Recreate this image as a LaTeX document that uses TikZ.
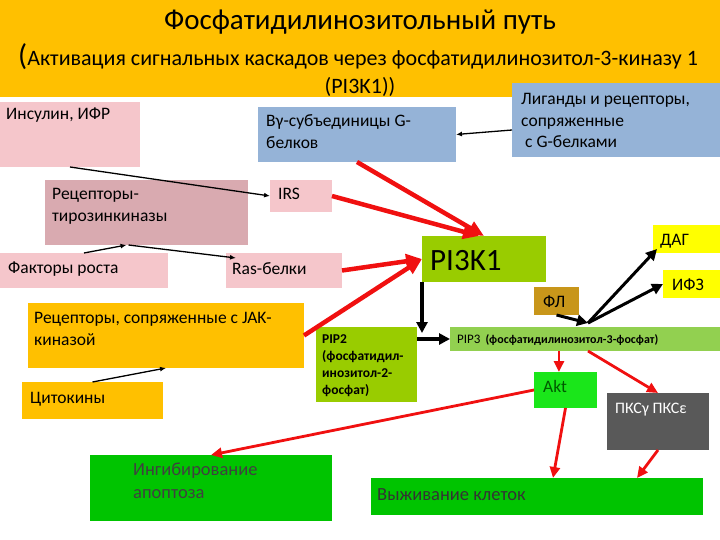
\documentclass[tikz,border=0pt]{standalone}
\usepackage{fontspec}
\setmainfont{Carlito}
\usetikzlibrary{arrows.meta,calc}

\definecolor{bandor}{HTML}{FFC000}
\definecolor{pinkbox}{HTML}{F5C6CB}
\definecolor{rtkbox}{HTML}{D9AAB0}
\definecolor{bluebox}{HTML}{95B3D7}
\definecolor{olivebox}{HTML}{99CC00}
\definecolor{pipbox}{HTML}{92D050}
\definecolor{aktbox}{HTML}{1AE61A}
\definecolor{pkcbox}{HTML}{595959}
\definecolor{endbox}{HTML}{00C400}
\definecolor{yelbox}{HTML}{FFFF00}
\definecolor{flbox}{HTML}{C8961A}
\definecolor{arrred}{HTML}{F01010}

\begin{document}
\begin{tikzpicture}[x=1pt,y=-1pt,
  box/.style={inner sep=0pt, outer sep=0pt, anchor=north west},
  txt/.style={anchor=base west, inner sep=0pt, align=left, font=\fontsize{17.5}{22}\selectfont},
  thinarr/.style={-{Latex[length=6pt,width=5pt]}, line width=1.3pt},
  blackarr/.style={-{Triangle[length=11pt,width=11pt]}, line width=3.5pt},
  redarr/.style={arrred, -{Triangle[length=16pt,width=14pt]}, line width=4.5pt},
  redsm/.style={arrred, -{Triangle[length=11pt,width=10pt]}, line width=2.8pt}]
\useasboundingbox (0,0) rectangle (720,540);

% title band
\fill[bandor] (0,0) rectangle (720,97);
\node[anchor=base, inner sep=0pt, font=\fontsize{29}{32}\selectfont] (title) at (360,30) {Фосфатидилинозитольный путь};
\node[anchor=base west, inner sep=0pt, font=\fontsize{22}{26}\selectfont] (sub) at (18,66) {{\fontsize{30}{32}\selectfont(}Активация сигнальных каскадов через фосфатидилинозитол-3-киназу 1};
\node[anchor=base, inner sep=0pt, font=\fontsize{22}{26}\selectfont] (subb) at (360,94) {(PI3K1))};

% boxes
\node[box, fill=pinkbox, minimum width=140pt, minimum height=65pt] (ins) at (0,102) {};
\node[box, fill=bluebox, minimum width=198pt, minimum height=55pt] (bg) at (258,107) {};
\node[box, fill=bluebox, minimum width=208pt, minimum height=74pt] (lig) at (512,83) {};
\node[box, fill=rtkbox, minimum width=203pt, minimum height=65pt] (rtk) at (45,180) {};
\node[box, fill=pinkbox, minimum width=62pt, minimum height=32pt] (irs) at (270,180) {};
\node[box, fill=pinkbox, minimum width=168pt, minimum height=35pt] (fac) at (0,253) {};
\node[box, fill=pinkbox, minimum width=116pt, minimum height=35pt] (ras) at (226,253) {};
\node[box, fill=olivebox, minimum width=124pt, minimum height=46pt] (pi3k) at (422,236) {};
\node[box, fill=yelbox, minimum width=67pt, minimum height=28pt] (dag) at (653,225) {};
\node[box, fill=yelbox, minimum width=57pt, minimum height=28pt] (ifz) at (663,270) {};
\node[box, fill=flbox, minimum width=45pt, minimum height=28pt] (fl) at (534,287) {};
\node[box, fill=bandor, minimum width=276pt, minimum height=65pt] (jak) at (28,303) {};
\node[box, fill=bandor, minimum width=141pt, minimum height=37pt] (cyt) at (22,382) {};
\node[box, fill=olivebox, minimum width=101pt, minimum height=75pt] (pip2) at (316,327) {};
\node[box, fill=pipbox, minimum width=270pt, minimum height=24pt] (pip3) at (450,327) {};
\node[box, fill=aktbox, minimum width=63pt, minimum height=36pt] (akt) at (534,372) {};
\node[box, fill=pkcbox, minimum width=102pt, minimum height=57pt] (pkc) at (607,393) {};
\node[box, fill=endbox, minimum width=242pt, minimum height=66pt] (inh) at (90,455) {};
\node[box, fill=endbox, minimum width=332pt, minimum height=37pt] (surv) at (371,478) {};

% labels (multi-line ones sit on their last line)
\node[txt] (insT) at (6,120) {Инсулин, ИФР};
\node[txt] (bgT) at (266,149) {Вγ-субъединицы G-\\белков};
\node[txt, font=\fontsize{17.5}{21.5}\selectfont] (ligT) at (521,148) {Лиганды и рецепторы,\\сопряженные\\\hspace{4pt}с G-белками};
\node[txt] (rtkT) at (52,222) {Рецепторы-\\тирозинкиназы};
\node[txt] (irsT) at (278,200) {IRS};
\node[txt] (facT) at (8,273) {Факторы роста};
\node[txt] (rasT) at (232,274) {Ras-белки};
\node[txt, font=\fontsize{31}{34}\selectfont] (pi3kT) at (430,270) {PI3K1};
\node[txt] (dagT) at (660,245) {ДАГ};
\node[txt] (ifzT) at (672,290) {ИФЗ};
\node[txt] (flT) at (543,307) {ФЛ};
\node[txt] (jakT) at (34,345) {Рецепторы, сопряженные с JAK-\\киназой};
\node[txt] (cytT) at (30,403) {Цитокины};
\node[txt, font=\bfseries\fontsize{13.5}{17}\selectfont] (pip2T) at (322,394) {PIP2\\(фосфатидил-\\инозитол-2-\\фосфат)};
\node[txt, font=\fontsize{13}{16}\selectfont] (pip3T) at (457,343) {PIP3\hspace{5pt}{\bfseries\fontsize{12}{14}\selectfont(фосфатидилинозитол-3-фосфат)}};
\node[txt, text=green!35!black] (aktT) at (543,392) {Akt};
\node[txt, text=white, font=\fontsize{16}{20}\selectfont] (pkcT) at (615,413) {ПКСγ ПКСε};
\node[txt, text=black!75, font=\fontsize{18.5}{23}\selectfont] (inhT) at (133,498) {Ингибирование\\апоптоза};
\node[txt, text=black!80, font=\fontsize{18.5}{23}\selectfont] (survT) at (377,500) {Выживание клеток};

% free ends
\coordinate (dn) at (422,333);
\coordinate (jn) at (588,323);

% thin black arrows
\draw[thinarr] ([yshift=-10pt]lig.west) -- (bg.east);
\draw[thinarr] (ins.south) -- (irs.west);
\draw[thinarr] (fac.north) -- ([xshift=-20pt]rtk.south);
\draw[thinarr] ([xshift=-18pt]rtk.south) -- ([xshift=10pt,yshift=-5pt]ras.north west);
\draw[thinarr] (cyt.north) -- (jak.south);

% red arrows to PI3K1
\draw[redarr] (bg.south) -- (pi3k.north);
\draw[redarr] (irs.east) -- ([xshift=-5pt]pi3k.north);
\draw[redarr] (ras.east) -- (pi3k.west);
\draw[redarr] (jak.east) -- (pi3k.west);

% black arrows
\draw[blackarr] (pi3k.south west) -- (dn);
\draw[blackarr] ([yshift=-12pt]pip2.north east) -- (pip3.west);
\draw[blackarr, line width=3pt] (fl.south) -- (jn);
\draw[blackarr, line width=3pt] (jn) -- ([xshift=4pt,yshift=4pt]dag.south west);
\draw[blackarr, line width=3pt] (jn) -- (ifz.west);

% red arrows below
\draw[redsm] (pip3.south -| akt.110) -- (akt.110);
\draw[redsm] (pip3.south -| jn) -- (pkc.north);
\draw[redsm] (akt.west) -- (inh.north);
\draw[redsm] (akt.south) -- ([xshift=16pt]surv.north);
\draw[redsm] (pkc.south) -- ([xshift=100pt]surv.north);
\end{tikzpicture}
\end{document}
